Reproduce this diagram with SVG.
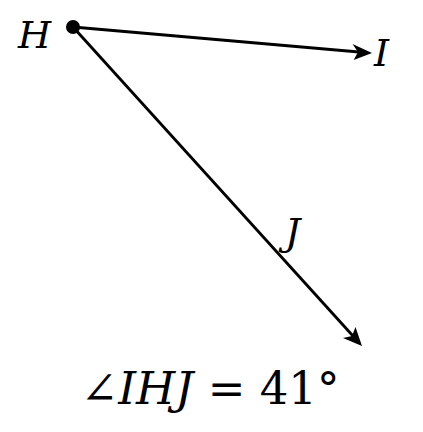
<svg xmlns="http://www.w3.org/2000/svg" width="423" height="432" viewBox="0 0 423 432">
<style>
.ln{stroke:#000;stroke-width:2.8;fill:none}
.ah{fill:#000}
.lb{font-family:"DejaVu Serif","Liberation Serif",serif;font-style:italic;font-size:38px;fill:#000}
.eq{font-family:"DejaVu Serif","Liberation Serif",serif;font-size:45px;fill:#000}
</style>
<rect width="423" height="432" fill="#fff"/>
<g id="connectors">
<line class="ln" x1="73" y1="27" x2="359" y2="52"/>
<polygon class="ah" points="372,53 352.5,44 358,52 353.7,60"/>
<line class="ln" x1="73" y1="27" x2="353" y2="336"/>
<polygon class="ah" points="362,346 355.5,327 352,336 343,338"/>
</g>
<g id="node-H">
<circle cx="73" cy="27" r="7" fill="#000"/>
<text class="lb" x="18" y="48">H</text>
</g>
<g id="node-I">
<text class="lb" x="374" y="66">I</text>
</g>
<g id="node-J">
<text class="lb" x="285" y="245">J</text>
</g>
<g id="label">
<text class="eq" x="210" y="404" text-anchor="middle">∠<tspan font-style="italic">IHJ</tspan> = 41°</text>
</g>
</svg>
